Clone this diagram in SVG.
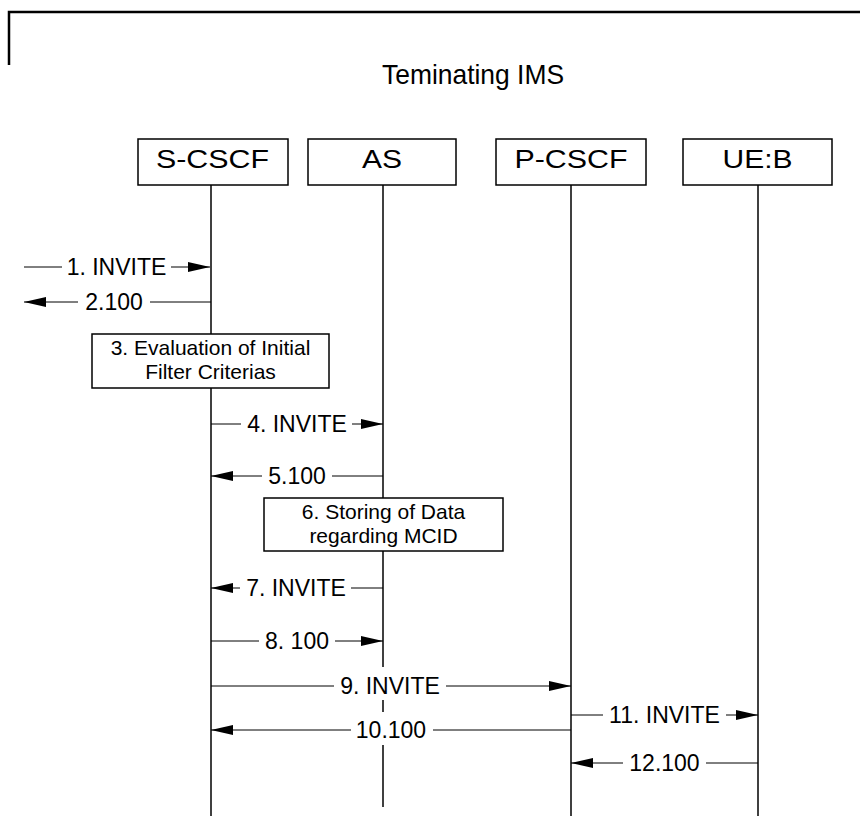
<svg xmlns="http://www.w3.org/2000/svg" width="860" height="816" viewBox="0 0 860 816">
<defs>
<marker id="ah" viewBox="0 0 22 10" refX="22" refY="5" markerWidth="22" markerHeight="10" markerUnits="userSpaceOnUse" orient="auto">
<path d="M0,0 L22,5 L0,10 z" fill="#000"/>
</marker>
<style>
text{font-family:"Liberation Sans",Arial,sans-serif;fill:#000}
.hdr{font-size:25px;text-anchor:middle}
.ttl{font-size:28px}
.box{fill:#fff;stroke:#000;stroke-width:1.5}
.life{stroke:#000;stroke-width:1.5;fill:none}
.msg{stroke:#000;stroke-width:1;fill:none;marker-end:url(#ah)}
.lbl{font-size:23px;text-anchor:middle}
.bg{fill:#fff;stroke:none}
.note{font-size:21px;text-anchor:middle}
</style>
</defs>
<rect width="860" height="816" fill="#fff"/>
<g id="frame">
<polyline points="9,65 9,12 860,12" fill="none" stroke="#000" stroke-width="2.5"/>
<text class="ttl" x="382" y="84" textLength="182" lengthAdjust="spacingAndGlyphs">Teminating IMS</text>
</g>
<g id="lifelines">
<line class="life" x1="211" y1="185" x2="211" y2="816"/>
<line class="life" x1="383" y1="185" x2="383" y2="807"/>
<line class="life" x1="571" y1="185" x2="571" y2="816"/>
<line class="life" x1="758" y1="185" x2="758" y2="816"/>
</g>
<g id="S-CSCF"><rect class="box" x="138" y="139" width="150" height="46"/><text class="hdr" x="212.5" y="168" textLength="113" lengthAdjust="spacingAndGlyphs">S-CSCF</text></g>
<g id="AS"><rect class="box" x="308" y="139" width="148" height="46"/><text class="hdr" x="382" y="168" textLength="40" lengthAdjust="spacingAndGlyphs">AS</text></g>
<g id="P-CSCF"><rect class="box" x="496" y="139" width="150" height="46"/><text class="hdr" x="571" y="168" textLength="113" lengthAdjust="spacingAndGlyphs">P-CSCF</text></g>
<g id="UE-B"><rect class="box" x="683" y="139" width="149" height="46"/><text class="hdr" x="757.5" y="168" textLength="70" lengthAdjust="spacingAndGlyphs">UE:B</text></g>
<g id="connectors">
<line class="msg" x1="24" y1="267" x2="210" y2="267"/>
<rect class="bg" x="62" y="254" width="109" height="26"/><text class="lbl" x="116.5" y="275">1. INVITE</text>
<line class="msg" x1="211" y1="302" x2="24" y2="302"/>
<rect class="bg" x="78" y="289" width="72" height="26"/><text class="lbl" x="114" y="310">2.100</text>
<line class="msg" x1="211" y1="424" x2="383" y2="424"/>
<rect class="bg" x="241" y="411" width="111" height="26"/><text class="lbl" x="297" y="432">4. INVITE</text>
<line class="msg" x1="383" y1="476" x2="211" y2="476"/>
<rect class="bg" x="262" y="463" width="70" height="26"/><text class="lbl" x="297" y="484">5.100</text>
<line class="msg" x1="383" y1="588" x2="211" y2="588"/>
<rect class="bg" x="240" y="575" width="111" height="26"/><text class="lbl" x="296" y="596">7. INVITE</text>
<line class="msg" x1="211" y1="641" x2="383" y2="641"/>
<rect class="bg" x="259" y="628" width="76" height="26"/><text class="lbl" x="297" y="649">8. 100</text>
<line class="msg" x1="211" y1="686" x2="571" y2="686"/>
<rect class="bg" x="334" y="667" width="112" height="33"/><text class="lbl" x="390" y="694">9. INVITE</text>
<line class="msg" x1="571" y1="730" x2="211" y2="730"/>
<rect class="bg" x="351" y="712" width="82" height="33"/><text class="lbl" x="391" y="738">10.100</text>
<line class="msg" x1="571" y1="715" x2="758" y2="715"/>
<rect class="bg" x="603" y="702" width="123" height="26"/><text class="lbl" x="664.5" y="723">11. INVITE</text>
<line class="msg" x1="758" y1="763" x2="571" y2="763"/>
<rect class="bg" x="623" y="750" width="83" height="26"/><text class="lbl" x="664.5" y="771">12.100</text>
</g>
<g id="step3"><rect class="box" x="92" y="334" width="237" height="54"/><text class="note" x="210.5" y="355">3. Evaluation of Initial</text><text class="note" x="210.5" y="379">Filter Criterias</text></g>
<g id="step6"><rect class="box" x="264" y="498" width="239" height="53"/><text class="note" x="383.5" y="519">6. Storing of Data</text><text class="note" x="383.5" y="543">regarding MCID</text></g>
</svg>
